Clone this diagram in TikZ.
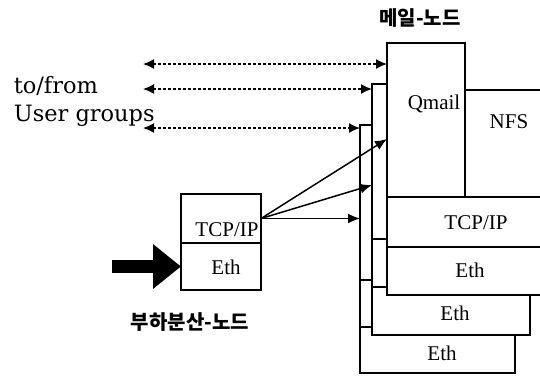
\documentclass[tikz,border=0pt]{standalone}
\usepackage{fontspec}
\setmainfont{Liberation Serif}
\newfontfamily\wideserif{DejaVu Serif}
\newfontfamily\krfont{Noto Sans CJK KR}
\usetikzlibrary{arrows.meta}
\begin{document}
\begin{tikzpicture}[x=1pt,y=-1pt,line width=1.6pt,
  part/.style={draw,fill=white,inner sep=0pt,outer sep=0pt,anchor=north west},
  lbl/.style={inner sep=0pt,font=\fontsize{21}{21}\selectfont},
  side/.style={inner sep=0pt,anchor=base west,font=\wideserif\fontsize{22.5}{22.5}\selectfont},
  title/.style={inner sep=0pt,font=\krfont\bfseries\fontsize{20}{20}\selectfont},
  link/.style={line width=1.5pt,-{Latex[length=12pt,width=10pt]}},
  duplex/.style={line width=1.5pt,dash pattern=on 3pt off 2pt,{Latex[length=11pt,width=10pt]}-{Latex[length=11pt,width=10pt]}},
  feed/.style={line width=13pt,-{Triangle[length=28pt,width=43pt]}}
]
\useasboundingbox (0,0) rectangle (540,376);
\begin{scope}
\clip (0,0) rectangle (540,376);
% card C (back)
\node[part,minimum width=78,minimum height=155] (cq) at (360,125) {};
\node[part,minimum width=77,minimum height=108] (cnfs) at (438,172) {};
\node[part,minimum width=155,minimum height=47] (ctcp) at (360,280) {};
\node[part,minimum width=155,minimum height=46] (ceth) at (360,327) {};
% card B
\node[part,minimum width=78,minimum height=155] (bq) at (372,84) {};
\node[part,minimum width=80,minimum height=108] (bnfs) at (450,131) {};
\node[part,minimum width=158,minimum height=48] (btcp) at (372,239) {};
\node[part,minimum width=158,minimum height=48] (beth) at (372,287) {};
% card A (front)
\node[part,minimum width=78,minimum height=154] (aq) at (387,43) {};
\node[part,minimum width=90,minimum height=107] (anfs) at (465,90) {};
\node[part,minimum width=168,minimum height=50] (atcp) at (387,197) {};
\node[part,minimum width=168,minimum height=48] (aeth) at (387,247) {};
\end{scope}
\node[lbl] (tq) at (434,104) {Qmail};
\node[lbl] (tnfs) at (509,122) {NFS};
\node[lbl] (ttcpa) at (476,223) {TCP/IP};
\node[lbl] (tetha) at (470,270) {Eth};
\node[lbl] (tethb) at (455,313) {Eth};
\node[lbl] (tethc) at (442,353) {Eth};
% load-balancing node
\node[part,minimum width=80,minimum height=49] (ltcp) at (181,194) {};
\node[part,minimum width=80,minimum height=47] (leth) at (181,243) {};
\node[lbl] (tltcp) at (227,230) {TCP/IP};
\node[lbl] (tleth) at (226,267) {Eth};
% thick input arrow
\coordinate (feedsrc) at (112,266.5);
\draw[feed] (feedsrc) -- (leth.west);
% solid links
\coordinate (ya) at (0,139);
\coordinate (yb) at (0,185);
\coordinate (yc) at (0,218.5);
\draw[link] (ltcp.east) -- (aq.west |- ya);
\draw[link] (ltcp.east) -- (bq.west |- yb);
\draw[link] (ltcp.east) -- (cq.west |- yc);
% dashed user-group links
\coordinate (u1) at (143,64);
\coordinate (u2) at (143,89);
\coordinate (u3) at (143,128);
\draw[duplex] (u1) -- (aq.west |- u1);
\draw[duplex] (u2) -- (bq.west |- u2);
\draw[duplex] (u3) -- (cq.west |- u3);
% texts
\node[side] (tofrom) at (13,93) {to/from};
\node[side] (usergroups) at (13,121) {User groups};
\node[title] (mailnode) at (420,18) {메일-노드};
\node[title] (lbnode) at (190,322) {부하분산-노드};
\end{tikzpicture}
\end{document}
